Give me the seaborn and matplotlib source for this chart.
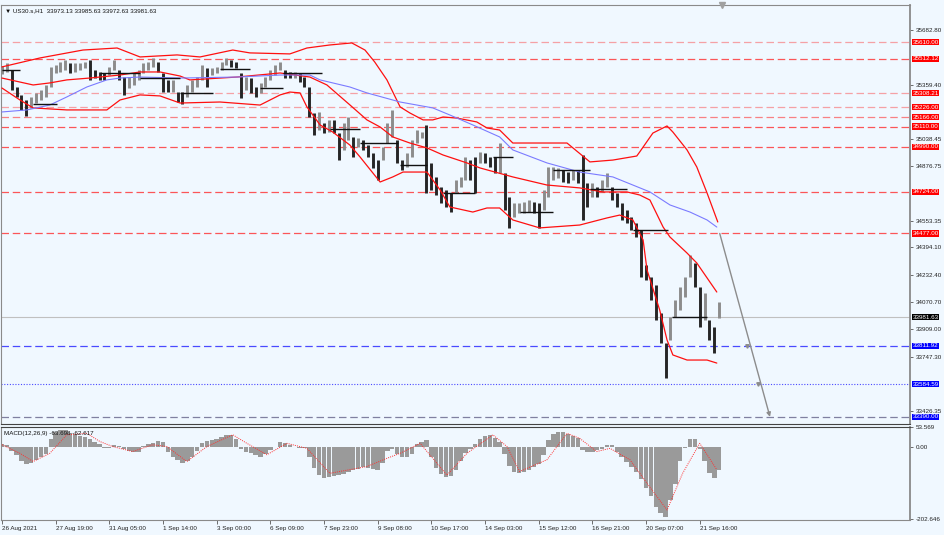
import numpy as np
import pandas as pd
import matplotlib
matplotlib.use("Agg")
import matplotlib.pyplot as plt
import seaborn as sns

BG = "#f0f8ff"
sns.set_theme(style="white")
plt.rcParams["font.family"] = ["Liberation Sans", "DejaVu Sans"]

# ── price bars (one entry ~ 3 hourly bars) ──────────────────────────────────
BAR_HIGH = [
    35470, 35487, 35446, 35345, 35298, 35268, 35286, 35310, 35327, 35357,
    35464, 35476, 35493, 35505, 35487, 35487, 35487, 35493, 35505, 35446,
    35434, 35428, 35464, 35505, 35446, 35404, 35404, 35428, 35446, 35487,
    35493, 35517, 35493, 35428, 35387, 35387, 35315, 35315, 35357, 35387,
    35404, 35476, 35458, 35458, 35464, 35493, 35517, 35505, 35493, 35428,
    35404, 35398, 35345, 35369, 35404, 35446, 35476, 35493, 35446, 35434,
    35434, 35428, 35404, 35345, 35191, 35197, 35132, 35150, 35150, 35072,
    35132, 35167, 35049, 35043, 35031, 35001, 34954, 34912, 34990, 35132,
    35209, 35031, 34912, 34954, 35031, 35090, 35078, 35120, 34895, 34812,
    34752, 34735, 34717, 34794, 34812, 34930, 34912, 34930, 34960, 34954,
    34930, 34930, 35013, 34835, 34693, 34658, 34658, 34664, 34675, 34664,
    34658, 34735, 34871, 34871, 34865, 34853, 34841, 34853, 34853, 34942,
    34776, 34776, 34752, 34794, 34835, 34752, 34717, 34658, 34616, 34575,
    34539, 34498, 34290, 34219, 34172, 34006, 33828, 33982, 34083, 34160,
    34219, 34349, 34302, 34160, 34124, 33964, 33923, 34071,
]
BAR_LOW = [
    35422, 35434, 35327, 35286, 35209, 35173, 35221, 35250, 35268, 35286,
    35345, 35428, 35434, 35446, 35428, 35434, 35446, 35458, 35387, 35398,
    35387, 35387, 35416, 35446, 35387, 35298, 35339, 35357, 35387, 35428,
    35446, 35464, 35434, 35315, 35315, 35315, 35256, 35244, 35286, 35315,
    35345, 35387, 35345, 35416, 35428, 35446, 35476, 35464, 35458, 35280,
    35327, 35310, 35286, 35310, 35345, 35387, 35416, 35446, 35398, 35398,
    35398, 35375, 35345, 35167, 35061, 35090, 35072, 35078, 35072, 34912,
    34972, 35031, 34930, 34990, 34972, 34930, 34865, 34794, 34912, 35013,
    35049, 34895, 34853, 34871, 34930, 35013, 35043, 34717, 34735, 34705,
    34658, 34634, 34604, 34717, 34752, 34794, 34794, 34717, 34895, 34895,
    34871, 34835, 34835, 34616, 34510, 34575, 34598, 34598, 34604, 34598,
    34510, 34616, 34693, 34794, 34806, 34782, 34776, 34794, 34776, 34557,
    34634, 34693, 34693, 34723, 34752, 34675, 34634, 34557, 34539, 34498,
    34456, 34219, 34201, 34083, 33964, 33828, 33620, 33846, 33982, 34023,
    34100, 34219, 34160, 33923, 33964, 33846, 33769, 33976,
]

# ── bollinger bands and moving average (bar index, price) ───────────────────
BB_UP_X = [0, 7.8, 16.6, 23.6, 28.3, 35.9, 40.6, 47.3, 50.8, 59.0, 62.5, 67.2,
           71.7, 74.4, 76.4, 78.9, 81.6, 83.6, 86.3, 88.3, 90.4, 93.2, 97.3,
           99.4, 102.0, 104.7, 115.8, 120.5, 125.2, 130.1, 130.7, 133.4, 136.3,
           137.5, 140.4, 142.4, 144.5, 146.7]
BB_UP_Y = [35464, 35517, 35564, 35576, 35523, 35535, 35523, 35564, 35547, 35541,
           35576, 35594, 35606, 35564, 35493, 35387, 35227, 35191, 35150, 35150,
           35167, 35161, 35138, 35102, 35090, 35013, 35013, 34901, 34912, 34936,
           34960, 35072, 35114, 35078, 34972, 34871, 34717, 34545]
BB_MID_X = [0, 6.4, 9.8, 13.3, 18.0, 24.2, 28.3, 32.4, 36.5, 38.5, 48.2, 57.0,
            63.1, 66.6, 71.3, 74.8, 77.5, 80.1, 83.6, 87.1, 90.4, 95.3, 98.0,
            104.7, 111.7, 118.4, 123.2, 128.1, 130.7, 132.8, 135.5, 136.9,
            140.4, 142.4, 146.5]
BB_MID_Y = [35398, 35357, 35369, 35387, 35398, 35416, 35434, 35434, 35410, 35387,
            35404, 35428, 35404, 35357, 35239, 35150, 35108, 35049, 35013, 34984,
            34942, 34895, 34865, 34812, 34764, 34747, 34723, 34723, 34705, 34675,
            34515, 34456, 34361, 34302, 34130]
BB_LOW_X = [0, 3.7, 6.4, 13.3, 21.5, 24.2, 28.3, 32.4, 36.5, 44.7, 52.9, 57.0,
            59.0, 61.1, 62.5, 65.2, 67.8, 71.3, 73.4, 77.5, 80.1, 82.2, 87.1,
            89.8, 91.8, 96.5, 99.4, 102.0, 104.7, 110.2, 118.4, 124.0, 126.6,
            129.3, 131.4, 132.2, 134.8, 136.3, 137.5, 140.4, 144.5, 146.5]
BB_LOW_Y = [35339, 35268, 35221, 35209, 35209, 35268, 35298, 35292, 35250, 35256,
            35238, 35298, 35315, 35310, 35227, 35120, 35078, 35001, 34930, 34782,
            34812, 34841, 34841, 34735, 34634, 34604, 34628, 34628, 34557, 34510,
            34527, 34569, 34586, 34557, 34438, 34261, 34023, 33846, 33757, 33727,
            33727, 33709]
MA_X = [0, 5.1, 9.8, 13.3, 17.4, 21.5, 24.2, 28.3, 36.5, 48.2, 57.0, 63.1, 65.2,
        71.3, 74.8, 81.6, 88.3, 91.8, 96.5, 102.0, 104.7, 111.7, 118.4, 125.2,
        132.8, 136.9, 141.0, 144.5, 146.5]
MA_Y = [35197, 35209, 35238, 35286, 35345, 35387, 35398, 35404, 35398, 35404,
        35416, 35416, 35387, 35345, 35310, 35256, 35221, 35179, 35120, 35049,
        34972, 34895, 34841, 34812, 34723, 34646, 34604, 34557, 34515]

# short black level segments: start bar, end bar, price
SEG_START = [0, 6.4, 20.0, 28.3, 36.5, 44.7, 52.9, 57.6, 67.2, 73.4, 81.6, 90.4,
             100.6, 106.1, 112.9, 120.5, 129.3, 137.3]
SEG_END = [3.7, 11.3, 28.3, 36.5, 43.2, 50.8, 57.6, 65.6, 73.4, 81.1, 87.1, 96.9,
           104.7, 112.9, 120.5, 128.0, 136.5, 144.5]
SEG_PRICE = [35446, 35244, 35428, 35398, 35310, 35452, 35339, 35428, 35096, 35013,
             34883, 34717, 34930, 34604, 34853, 34740, 34498, 33982]

# horizontal levels
RED_LEVELS = [35610.00, 35512.12, 35308.21, 35226.00, 35166.00, 35110.00,
              34990.00, 34724.00, 34477.00]
RED_ALPHA = [0.4, 0.75, 0.4, 0.4, 0.55, 0.75, 0.75, 0.75, 0.75]
BLUE_LEVELS = [33811.92, 33584.59, 33390.00]
CURRENT_PRICE = 33981.63

# projection arrow: bar index, price
PROJ_X = [147.1, 152.7, 155.0, 157.4]
PROJ_Y = [34477, 33812, 33585, 33390]

PRICE_TICKS = [35682.80, 35359.40, 35038.45, 34876.75,
               34553.35, 34394.10, 34232.40, 34070.70, 33909.00, 33747.30,
               33426.35]

# ── MACD ────────────────────────────────────────────────────────────────────
MACD_HIST = [
    6, 5, -12, -25, -40, -48, -46, -38, -30, -20,
    20, 42, 46, 45, 38, 35, 30, 27, 20, 14,
    7, -3, -4, 3, 2, -6, -12, -16, -16, 2,
    6, 10, 16, 12, -15, -28, -38, -45, -40, -28,
    -12, 10, 15, 18, 22, 27, 32, 33, 22, -8,
    -14, -18, -24, -28, -20, -10, 0, 14, 10, 3,
    -2, -4, -5, -30, -60, -80, -88, -84, -82, -80,
    -76, -72, -66, -62, -58, -60, -63, -65, -45, -12,
    -8, -20, -30, -28, -20, 6, 14, 18, -30, -60,
    -78, -84, -82, -65, -40, -18, -6, 8, 20, 30,
    33, 25, 12, -20, -55, -72, -75, -72, -65, -58,
    -48, -25, 18, 35, 42, 40, 35, 30, 25, -10,
    -16, -14, -10, -6, 5, 3, -16, -30, -42, -58,
    -72, -90, -115, -140, -170, -185, -198, -150, -105, -40,
    -5, 20, 22, -8, -40, -75, -88, -65,
]
SIG_X = [0, 3.7, 6.4, 9.8, 13.3, 17.4, 20.1, 22.7, 26.8, 30.9, 33.8, 37.9, 42.0,
         47.3, 50.2, 54.3, 58.4, 62.5, 67.2, 74.8, 78.9, 81.6, 85.7, 91.2, 95.3,
         100.6, 103.5, 106.1, 111.7, 115.8, 118.4, 121.9, 124.6, 128.7, 132.2,
         136.3, 139.5, 143.0, 146.5]
SIG_Y = [5, -19, -42, -19, 33, 37, 14, 0, -14, 5, 0, -42, 0,
         33, 9, -23, 9, -5, -75, -56, -33, -19, 9, -80, -19,
         33, 0, -70, -37, 37, 23, -14, -5, -37, -103,
         -178, -75, 9, -65]
MACD_TICKS = [53.569, 0.0, -202.646]
MACD_TICK_LABELS = ["53.569", "0.00", "-202.646"]

DATE_TICKS = [0, 11, 22, 33, 44, 55, 66, 77, 88, 99, 110, 121, 132, 143]
DATE_LABELS = ["26 Aug 2021", "27 Aug 19:00", "31 Aug 05:00", "1 Sep 14:00",
               "3 Sep 00:00", "6 Sep 09:00", "7 Sep 23:00", "9 Sep 08:00",
               "10 Sep 17:00", "14 Sep 03:00", "15 Sep 12:00", "16 Sep 21:00",
               "20 Sep 07:00", "21 Sep 16:00"]

FS = 4.5


def style_axes(a):
    a.set_facecolor(BG)
    for side in ["left", "top", "bottom", "right"]:
        a.spines[side].set_color("#8a8a8a")
        a.spines[side].set_linewidth(0.8)
    a.spines["right"].set_linewidth(1.3)


def price_label(a, y, txt, face):
    a.text(1.0025, y, txt, transform=a.get_yaxis_transform(), ha="left",
           va="center", fontsize=FS, color="white", clip_on=False, zorder=6,
           bbox=dict(facecolor=face, edgecolor="none", pad=0.5))


fig = plt.figure(figsize=(9.45, 5.35), dpi=100, facecolor=BG)
ax = fig.add_axes([0.001, 0.2075, 0.962, 0.7832])
axm = fig.add_axes([0.001, 0.028, 0.962, 0.174], sharex=ax)
style_axes(ax)
style_axes(axm)
ax.spines["bottom"].set_color("#444444")
axm.spines["top"].set_color("#444444")

idx = np.arange(len(BAR_HIGH))
hi = np.array(BAR_HIGH, dtype=float)
lo = np.array(BAR_LOW, dtype=float)
mid = (hi + lo) / 2
down = np.r_[False, mid[1:] < mid[:-1]]
colors = np.where(down, "#262626", "#8c8c8c")

# horizontal levels
for lvl, al in zip(RED_LEVELS, RED_ALPHA):
    ax.axhline(lvl, color="#ff2020", alpha=al, lw=0.9, dashes=(6, 3), zorder=1)
ax.axhline(BLUE_LEVELS[0], color="#4a4aff", lw=0.9, dashes=(6, 3), zorder=1)
ax.axhline(BLUE_LEVELS[1], color="#4a4aff", lw=0.8, dashes=(1, 1.5), zorder=1)
ax.axhline(BLUE_LEVELS[2], color="#8080a0", lw=0.9, dashes=(6, 3), zorder=1)
ax.axhline(CURRENT_PRICE, color="#c0c0c0", lw=0.8, zorder=1)

# price bars
ax.vlines(idx, lo, hi, colors=colors, lw=2.1, zorder=2)

# bands and MA
bands = pd.DataFrame({"x": BB_UP_X, "y": BB_UP_Y})
sns.lineplot(data=bands, x="x", y="y", ax=ax, color="#ff1010", lw=0.9,
             sort=False, zorder=3)
sns.lineplot(x=BB_MID_X, y=BB_MID_Y, ax=ax, color="#ff1010", lw=0.9,
             sort=False, zorder=3)
sns.lineplot(x=BB_LOW_X, y=BB_LOW_Y, ax=ax, color="#ff1010", lw=0.9,
             sort=False, zorder=3)
sns.lineplot(x=MA_X, y=MA_Y, ax=ax, color="#7b7bff", lw=0.8, sort=False,
             zorder=3)

ax.hlines(SEG_PRICE, SEG_START, SEG_END, colors="#111111", lw=1.0, zorder=4)

# projection
ax.annotate("", xy=(PROJ_X[-1], PROJ_Y[-1]), xytext=(PROJ_X[0], PROJ_Y[0]),
            arrowprops=dict(arrowstyle="-|>", color="#8c8c8c", lw=1.0,
                            mutation_scale=6, shrinkA=0, shrinkB=0), zorder=4)
ax.plot(PROJ_X[1:3], PROJ_Y[1:3], ls="none", marker="v", ms=2.5,
        color="#8c8c8c", zorder=4)

ax.set_xlim(-0.2, 186.1)
ax.set_ylim(33348, 35831)
ax.set_xlabel("")
ax.set_ylabel("")
ax.yaxis.tick_right()
ax.set_yticks(PRICE_TICKS)
ax.set_yticklabels([f"{v:.2f}" for v in PRICE_TICKS])
ax.tick_params(axis="y", right=True, length=2.5, width=0.6, color="#555555",
               labelsize=FS, pad=1.5, labelcolor="#222222")
ax.tick_params(axis="x", bottom=False, labelbottom=False)

# level labels on the price scale
for lvl in RED_LEVELS:
    price_label(ax, lvl, f"{lvl:.2f}", "#ff0000")
for lvl in BLUE_LEVELS:
    price_label(ax, lvl, f"{lvl:.2f}", "#0000ff")
price_label(ax, CURRENT_PRICE, f"{CURRENT_PRICE:.2f}", "#000000")

ax.text(0.004, 0.992, "\u25bc US30.s,H1  33973.13 33985.63 33972.63 33981.63",
        transform=ax.transAxes, ha="left", va="top", fontsize=FS,
        color="#111111")
ax.plot([147.5], [1.0], transform=ax.get_xaxis_transform(), marker="v",
        ms=4, color="#a0a0a0", clip_on=False, zorder=5)

# MACD panel
axm.bar(idx, MACD_HIST, width=0.9, color="#9a9a9a", edgecolor="none", zorder=2)
sns.lineplot(x=SIG_X, y=SIG_Y, ax=axm, color="#ff3030", lw=0.7,
             sort=False, zorder=3, linestyle=(0, (1, 1.2)))
axm.set_ylim(-206, 55)
axm.set_xlabel("")
axm.set_ylabel("")
axm.yaxis.tick_right()
axm.set_yticks(MACD_TICKS)
axm.set_yticklabels(MACD_TICK_LABELS)
axm.tick_params(axis="y", right=True, length=2.5, width=0.6, color="#555555",
                labelsize=FS, pad=1.5, labelcolor="#222222")
axm.set_xticks(DATE_TICKS)
axm.set_xticklabels(DATE_LABELS, ha="left")
axm.tick_params(axis="x", bottom=True, length=3, width=0.6, color="#555555",
                labelsize=FS, pad=1.5, labelcolor="#222222")
axm.text(0.003, 0.96, "MACD(12,26,9) -63.698 -62.617", transform=axm.transAxes,
         ha="left", va="top", fontsize=FS, color="#111111")

fig.savefig("out.png", dpi=100, facecolor=BG)
